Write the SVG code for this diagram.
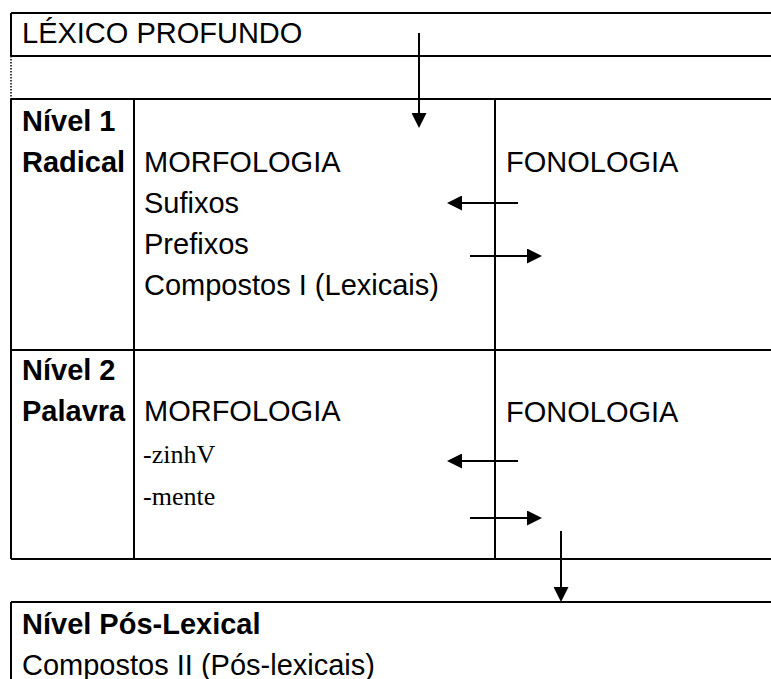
<svg xmlns="http://www.w3.org/2000/svg" width="771" height="679" viewBox="0 0 771 679">
<style>
.ln{stroke:#000;stroke-width:2;fill:none}
.dot{stroke:#000;stroke-width:1.5;stroke-dasharray:1.5 1.5;fill:none}
.t{font-family:"Liberation Sans",Arial,sans-serif;font-size:29px;fill:#000}
.b{font-weight:bold}
.s{font-family:"Liberation Serif","Times New Roman",serif;font-size:26px;fill:#000}
.ar{stroke:#000;stroke-width:2;fill:none;marker-end:url(#ah)}
</style>
<defs>
<marker id="ah" markerUnits="userSpaceOnUse" markerWidth="15" markerHeight="15" refX="0" refY="7.5" orient="auto" viewBox="0 0 15 15">
<path d="M0,0 L15,7.5 L0,15 Z" fill="#000"/>
</marker>
</defs>
<rect width="771" height="679" fill="#fff"/>
<g id="lexico-profundo">
<path class="ln" d="M11,13 H771 M11,13 V56 M11,56 H771"/>
<text class="t" x="22" y="43">LÉXICO PROFUNDO</text>
</g>
<g id="gap-row">
<path class="dot" d="M11,56 V99"/>
<path class="ln" d="M11,99 H771"/>
</g>
<g id="nivel1">
<path class="ln" d="M11,99 V350 M134,99 V350 M495,99 V350 M11,350 H771"/>
<text class="t b" x="22" y="131">Nível 1</text>
<text class="t b" x="22" y="172">Radical</text>
<text class="t" x="144" y="172">MORFOLOGIA</text>
<text class="t" x="144" y="213">Sufixos</text>
<text class="t" x="144" y="254">Prefixos</text>
<text class="t" x="144" y="295">Compostos I (Lexicais)</text>
<text class="t" x="506" y="172">FONOLOGIA</text>
</g>
<g id="nivel2">
<path class="ln" d="M11,350 V559 M134,350 V559 M495,350 V559 M11,559 H771"/>
<text class="t b" x="22" y="380">Nível 2</text>
<text class="t b" x="22" y="421">Palavra</text>
<text class="t" x="144" y="421">MORFOLOGIA</text>
<text class="s" x="143" y="463">-zinhV</text>
<text class="s" x="143" y="505">-mente</text>
<text class="t" x="506" y="422">FONOLOGIA</text>
</g>
<g id="pos-lexical">
<path class="ln" d="M11,602 H771 M11,602 V679"/>
<text class="t b" x="22" y="634">Nível Pós-Lexical</text>
<text class="t" x="22" y="675">Compostos II (Pós-lexicais)</text>
</g>
<g id="connectors">
<path class="ar" d="M419,33 V113"/>
<path class="ar" d="M518,203 H462"/>
<path class="ar" d="M470,256 H527"/>
<path class="ar" d="M518,461 H462"/>
<path class="ar" d="M470,518 H527"/>
<path class="ar" d="M561,531 V587"/>
</g>
</svg>
